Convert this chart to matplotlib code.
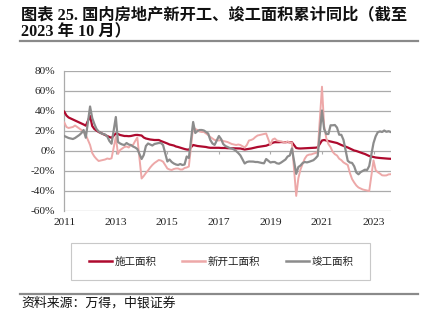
import matplotlib
matplotlib.use("Agg")
import matplotlib.pyplot as plt
from matplotlib.patches import Rectangle
from matplotlib.lines import Line2D
import numpy as np

plt.rcParams['axes.unicode_minus'] = False

# ---------------- data (cumulative YoY, %) ----------------
# monthly points Feb..Dec each year (Jan-Feb combined shown at Feb), 2023 to Oct
years = list(range(2011, 2024))
months_full = [2, 3, 4, 5, 6, 7, 8, 9, 10, 11, 12]
months_2023 = [2, 3, 4, 5, 6, 7, 8, 9, 10]

construction = [
    39.3, 35.5, 33.5, 32.5, 31.5, 30.5, 29.5, 28.5, 27.5, 26.5, 25.3,   # 2011
    35.0, 25.0, 22.0, 20.5, 19.0, 18.0, 17.0, 16.0, 15.0, 14.0, 13.2,   # 2012
    17.5, 17.0, 16.0, 15.5, 15.0, 15.0, 14.8, 15.0, 15.5, 16.0, 16.1,   # 2013
    15.5, 13.5, 12.5, 12.0, 11.5, 11.2, 11.0, 11.0, 11.0, 10.0, 9.2,    # 2014
    7.5, 6.5, 6.0, 5.5, 4.5, 4.0, 3.3, 2.5, 2.0, 1.5, 1.3,              # 2015
    6.0, 5.5, 5.0, 4.7, 4.5, 4.3, 4.0, 3.5, 3.2, 3.2, 3.2,              # 2016
    3.2, 3.0, 3.0, 3.0, 2.8, 2.8, 2.7, 2.7, 2.6, 2.5, 2.5,              # 2017
    1.5, 1.8, 2.0, 2.5, 3.0, 3.5, 4.0, 4.3, 4.7, 5.0, 5.3,              # 2018
    7.0, 8.2, 8.8, 8.8, 8.8, 9.0, 8.8, 8.8, 9.0, 8.7, 8.7,              # 2019
    3.0, 2.6, 2.5, 2.6, 2.6, 2.8, 3.0, 3.0, 3.1, 3.3, 3.7,              # 2020
    10.5, 11.0, 10.5, 10.0, 9.5, 9.0, 8.5, 8.0, 7.0, 6.0, 5.2,          # 2021
    3.5, 2.5, 1.5, 0.5, 0.0, -0.8, -1.5, -2.3, -3.0, -4.0, -5.0,        # 2022
    -6.0, -6.5, -6.8, -7.0, -7.2, -7.4, -7.5, -7.7, -7.8,               # 2023
]

new_starts = [
    28.5, 24.0, 23.0, 23.5, 24.0, 25.5, 24.0, 22.5, 21.0, 19.0, 16.2,   # 2011
    6.0, -2.0, -5.5, -8.0, -10.0, -9.5, -9.0, -8.5, -7.5, -8.0, -7.3,   # 2012
    14.0, -3.0, 1.0, 2.5, 4.0, 4.5, 3.5, 6.0, 6.0, 10.0, 13.5,          # 2013
    -27.5, -25.0, -22.0, -19.5, -16.5, -14.0, -12.0, -10.5, -9.0, -9.5, -10.7,  # 2014
    -17.5, -18.5, -19.0, -18.0, -17.5, -17.5, -18.5, -18.5, -17.0, -16.5, -15.5,  # 2015
    24.0, 22.0, 21.0, 19.5, 19.0, 19.0, 17.5, 16.0, 14.0, 12.5, 11.0,   # 2016
    10.5, 11.0, 10.0, 9.5, 9.0, 8.0, 7.0, 6.5, 6.0, 6.5, 6.0,           # 2017
    3.5, 6.0, 10.5, 11.0, 12.0, 14.0, 15.5, 16.0, 16.5, 17.0, 17.5,     # 2018
    6.0, 11.5, 12.5, 10.5, 10.0, 9.5, 9.0, 8.5, 9.5, 8.5, 8.3,          # 2019
    -44.9, -27.2, -18.4, -12.8, -7.6, -4.5, -3.6, -3.4, -2.6, -2.0, -1.2,  # 2020
    64.3, 25.0, 12.8, 6.9, 3.8, -0.9, -3.2, -4.5, -7.7, -9.1, -11.4,    # 2021
    -14.0, -22.0, -28.0, -31.5, -34.5, -36.5, -37.5, -38.5, -39.0, -39.5, -40.0,  # 2022
    -9.4, -19.2, -21.2, -22.6, -24.3, -24.5, -24.4, -23.4, -23.2,       # 2023
]

completions = [
    15.0, 14.0, 13.0, 12.5, 12.0, 13.0, 14.5, 16.0, 18.0, 21.0, 13.3,   # 2011
    44.5, 33.0, 27.0, 22.0, 19.5, 18.0, 17.0, 16.5, 14.5, 10.0, 7.3,    # 2012
    34.0, 9.0, 7.5, 6.5, 6.0, 8.0, 6.5, 6.0, 4.5, 3.5, 2.0,             # 2013
    -8.0, -4.0, 5.0, 7.5, 6.5, 5.5, 7.0, 7.5, 8.0, 8.0, 5.9,            # 2014
    -10.5, -8.5, -11.0, -12.5, -13.5, -14.0, -13.0, -14.0, -13.5, -5.5, -7.0,  # 2015
    29.0, 18.0, 20.0, 21.0, 21.0, 20.5, 19.0, 17.5, 11.0, 7.5, 6.1,     # 2016
    15.0, 12.0, 7.0, 5.0, 4.0, 3.0, 2.5, 1.5, 0.0, -2.0, -4.4,          # 2017
    -12.5, -11.0, -10.5, -10.5, -10.6, -11.0, -11.0, -11.5, -12.0, -12.3, -8.0,  # 2018
    -11.5, -11.0, -11.0, -12.3, -12.7, -11.5, -10.0, -8.5, -5.5, -4.5, 2.6,  # 2019
    -22.9, -16.0, -14.5, -12.0, -11.0, -11.4, -10.8, -10.0, -9.2, -7.3, -4.9,  # 2020
    40.5, 22.0, 17.0, 17.0, 25.7, 25.7, 26.0, 23.4, 16.3, 16.2, 11.2,   # 2021
    -9.8, -11.5, -11.9, -15.3, -21.5, -23.3, -21.1, -19.9, -18.7, -19.0, -15.0,  # 2022
    8.0, 14.7, 18.8, 19.6, 19.0, 20.5, 19.2, 19.8, 19.0,                # 2023
]

series_names = ['施工面积', '新开工面积', '竣工面积']
series_colors = ['#AE0A2E', '#EDA8A8', '#8C8C8C']
tick_years = [2011, 2013, 2015, 2017, 2019, 2021, 2023]
y_ticks = [-60, -40, -20, 0, 20, 40, 60, 80]

# ---------------- x positions from dates ----------------
x = []
for yr in years:
    ms = months_2023 if yr == 2023 else months_full
    for m in ms:
        x.append(yr + (m - 1) / 12.0)
x = np.array(x)

# ---------------- figure ----------------
W, H = 429, 324
fig = plt.figure(figsize=(W / 100, H / 100), dpi=100)
fig.patch.set_facecolor('white')

def fx(px):
    return px / W

def fy(py):
    return 1 - py / H

ax = fig.add_axes([fx(64.3), fy(211), fx(390.7) - fx(64.3), fy(71) - fy(211)])

grid_c = '#ABABAB'
for v, c, lw, z in zip([construction, new_starts, completions], series_colors,
                       [1.6, 1.4, 1.6], [3, 4, 5]):
    ax.plot(x, v, color=c, lw=lw, zorder=z, solid_joinstyle='round')

ax.set_ylim(-60, 80)
ax.set_xlim(2011 + 1 / 12.0, 2023 + 9 / 12.0)
ax.set_yticks(y_ticks)
ax.set_yticklabels([f'{t}%' for t in y_ticks])
xt = [yv + 1 / 12.0 for yv in tick_years]
ax.set_xticks(xt)
ax.set_xticklabels([str(yv) for yv in tick_years])

serif = ['Liberation Serif', 'DejaVu Serif']
for lab in ax.get_yticklabels() + ax.get_xticklabels():
    lab.set_family(serif)
    lab.set_fontsize(8.2)
    lab.set_color('#222222')
ax.tick_params(axis='y', length=0, pad=6.5)
ax.tick_params(axis='x', length=0, pad=5)

ax.yaxis.grid(True, color=grid_c, lw=0.9)
ax.set_axisbelow(True)
for s in ['top', 'right', 'bottom']:
    ax.spines[s].set_visible(False)
ax.spines['left'].set_color(grid_c)
ax.spines['left'].set_linewidth(0.9)
# small tick marks on the zero axis line
ax.vlines(xt[1:], -3, 0, color=grid_c, lw=0.8, zorder=2)

# ---------------- title ----------------
title_fam = ['Liberation Serif', 'Noto Sans CJK SC']
fig.text(fx(21), fy(7), '图表 25. 国内房地产新开工、竣工面积累计同比（截至',
         family=title_fam, fontsize=11.7, fontweight='bold', va='top', ha='left',
         color='#111111')
fig.text(fx(21), fy(24.5), '2023 年 10 月）',
         family=title_fam, fontsize=11.7, fontweight='bold', va='top', ha='left',
         color='#111111')
fig.add_artist(Line2D([fx(20), fx(418)], [fy(41), fy(41)], color='#8A8A8A', lw=1.6))

# ---------------- legend ----------------
fig.add_artist(Rectangle((fx(71), fy(280)), fx(370) - fx(71), fy(243) - fy(280),
                         fill=False, edgecolor='#C8C8C8', lw=0.8))
handles = [Line2D([], [], color=c, lw=lw) for c, lw in zip(series_colors, [1.8, 1.8, 1.8])]
leg = fig.legend(handles, series_names, loc='center', bbox_to_anchor=(fx(221), fy(262)),
                 ncol=3, frameon=False, handlelength=2.2, handletextpad=0.25,
                 columnspacing=2.4, prop={'family': ['Noto Sans CJK SC'], 'size': 7.6})
for t in leg.get_texts():
    t.set_color('#222222')

# ---------------- source ----------------
fig.add_artist(Line2D([fx(20), fx(418)], [fy(293.5), fy(293.5)], color='#8A8A8A', lw=1.6))
fig.text(fx(21), fy(303), '资料来源：万得，中银证券', family=['Noto Sans CJK SC'],
         fontsize=9.3, style='italic', va='center', ha='left', color='#111111')

fig.savefig('out.png', dpi=100)
